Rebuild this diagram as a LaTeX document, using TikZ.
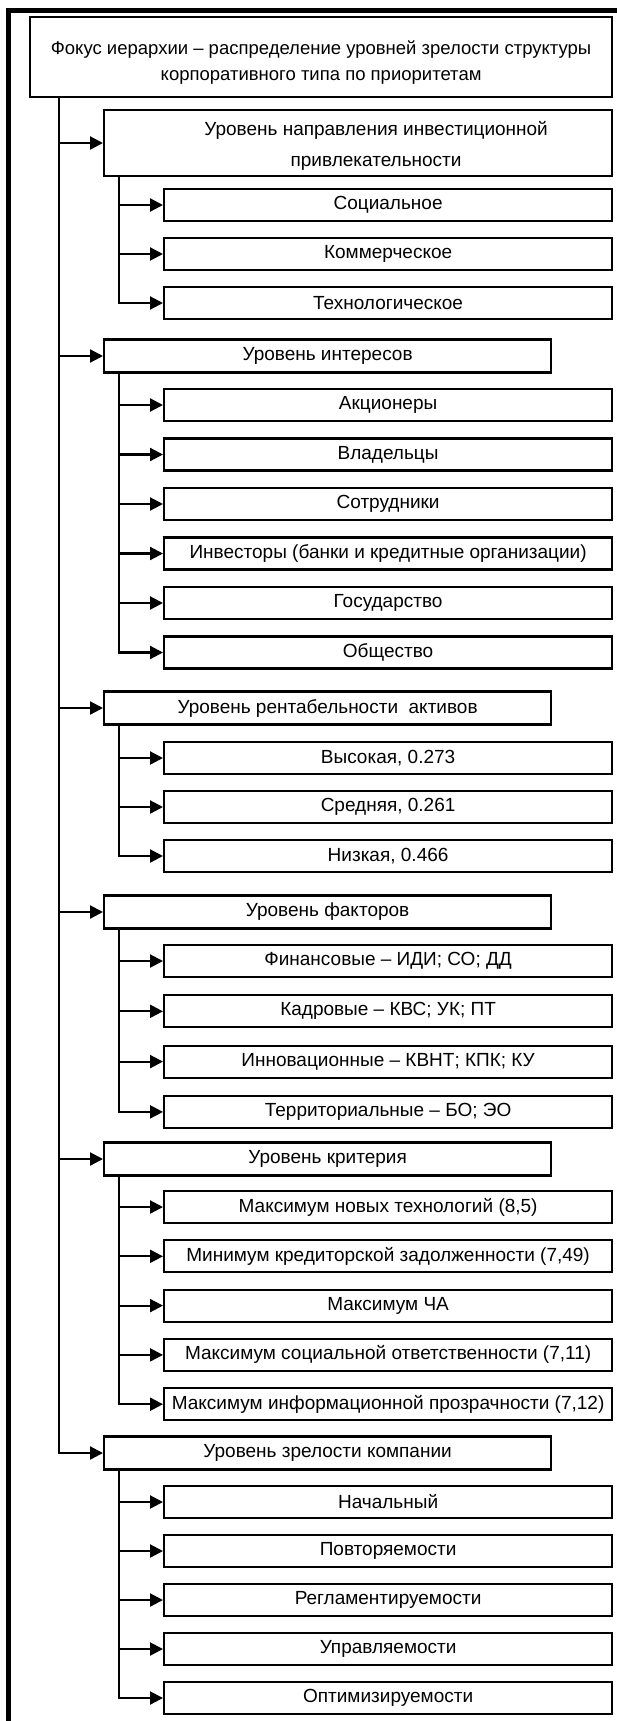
\documentclass[tikz,border=0pt]{standalone}
\usepackage{fontspec}
\setmainfont{Liberation Sans}
\usepackage{tikz}
\usetikzlibrary{positioning,arrows.meta}
\tikzstyle{chart} = [x = 1pt, y = -1pt]
\tikzstyle{boxStyle} = [draw, line width = 2.2pt, fill = white, inner sep = 0pt, align = center, font = \fontsize{19}{25}\selectfont]
\tikzstyle{topBox} = [boxStyle, anchor = west, minimum width = 582pt, minimum height = 80pt]
\tikzstyle{levelBox} = [boxStyle, anchor = west, minimum width = 447pt, minimum height = 33pt]
\tikzstyle{wideLevelBox} = [levelBox, minimum width = 508pt, minimum height = 66pt]
\tikzstyle{itemBox} = [boxStyle, anchor = west, minimum width = 448pt, minimum height = 32pt]
\tikzstyle{linkLine} = [line width = 2.2pt]
\tikzstyle{arrowLine} = [linkLine, -{Triangle[length = 13pt, width = 13pt]}]
\tikzstyle{frameLine} = [line width = 5pt]
\newcommand{\levelX}{103}
\newcommand{\itemX}{163}
\newcommand{\stemShift}{16pt}
\newcommand{\levelNode}[4]{
  \node [#1] (#2) at (\levelX, #3) {#4};
  \draw [arrowLine] (trunk) |- (#2.west);
  \coordinate (#2-stem) at ([xshift = \stemShift] #2.south west);
}
\newcommand{\itemNodes}[4]{
  \foreach \itemText [count = \i] in {#4} {
    \pgfmathsetmacro{\itemY}{#2 + (\i - 1) * #3}
    \node [itemBox] (#1-\i) at (\itemX, \itemY) {\itemText};
    \draw [arrowLine] (#1-stem) |- (#1-\i.west);
  }
}

\begin{document}
\begin{tikzpicture}[chart]
  \useasboundingbox (0, 0) rectangle (617, 1721);
  \draw [frameLine] (8, 1725) -- (8, 10) -- (620, 10);

  \node [topBox] (focus) at (29, 57) {\raisebox{-6pt}[\height][\depth]{\parbox{560pt}{\centering\fontsize{18.5}{26}\selectfont Фокус иерархии – распределение уровней зрелости структуры\\корпоративного типа по приоритетам}}};
  \coordinate (trunk) at ([xshift = 30pt] focus.south west);

  \levelNode{wideLevelBox}{direction}{143}{\raisebox{-3pt}[\height][\depth]{\parbox{500pt}{\centering\hspace*{36pt}Уровень направления инвестиционной\\[6pt]\hspace*{36pt}привлекательности}}}
  \itemNodes{direction}{205}{49}{Социальное, Коммерческое, Технологическое}

  \levelNode{levelBox}{interest}{356}{Уровень интересов}
  \itemNodes{interest}{405}{49.5}{Акционеры, Владельцы, Сотрудники, Инвесторы (банки и кредитные организации), Государство, Общество}

  \levelNode{levelBox}{profit}{708}{Уровень рентабельности\ \ активов}
  \itemNodes{profit}{758}{49}{{Высокая, 0.273}, {Средняя, 0.261}, {Низкая, 0.466}}

  \levelNode{levelBox}{factor}{912}{Уровень факторов}
  \itemNodes{factor}{961}{50.3}{Финансовые – ИДИ; СО; ДД, Кадровые – КВС; УК; ПТ, Инновационные – КВНТ; КПК; КУ, Территориальные – БО; ЭО}

  \levelNode{levelBox}{criterion}{1159}{Уровень критерия}
  \itemNodes{criterion}{1207}{49.3}{{Максимум новых технологий (8,5)}, {Минимум кредиторской задолженности (7,49)}, Максимум ЧА, {Максимум социальной ответственности (7,11)}, {Максимум информационной прозрачности (7,12)}}

  \levelNode{levelBox}{maturity}{1453}{Уровень зрелости компании}
  \itemNodes{maturity}{1502}{49}{Начальный, Повторяемости, Регламентируемости, Управляемости, Оптимизируемости}
\end{tikzpicture}
\end{document}
